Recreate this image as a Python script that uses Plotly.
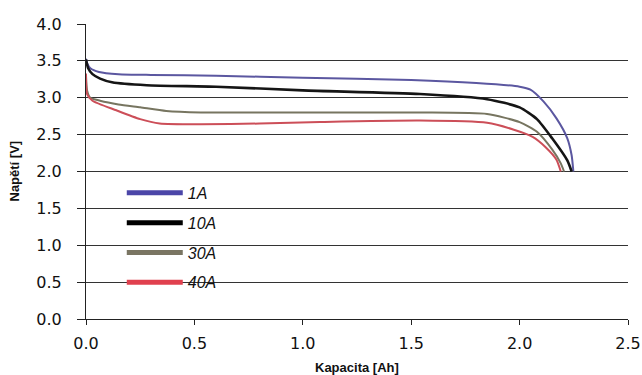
import plotly.graph_objects as go

series_names = ["1A", "10A", "30A", "40A"]

x_1a = [0, 0.005, 0.02, 0.06, 0.15, 0.3, 0.6, 1.0, 1.5, 1.8, 2.0, 2.05, 2.11, 2.17, 2.22, 2.24, 2.248]
y_1a = [3.53, 3.47, 3.40, 3.35, 3.32, 3.31, 3.30, 3.27, 3.24, 3.20, 3.15, 3.11, 2.95, 2.72, 2.45, 2.22, 2.0]

x_10a = [0, 0.01, 0.03, 0.065, 0.12, 0.28, 0.6, 1.0, 1.54, 1.85, 2.0, 2.08, 2.15, 2.22, 2.24]
y_10a = [3.52, 3.40, 3.32, 3.26, 3.21, 3.17, 3.15, 3.10, 3.05, 2.98, 2.87, 2.71, 2.45, 2.15, 2.0]

x_30a = [0, 0.005, 0.02, 0.065, 0.15, 0.25, 0.37, 0.53, 1.0, 1.54, 1.85, 2.0, 2.08, 2.15, 2.19, 2.205]
y_30a = [3.30, 3.10, 3.0, 2.96, 2.91, 2.87, 2.82, 2.80, 2.80, 2.80, 2.78, 2.67, 2.54, 2.30, 2.11, 2.0]

x_40a = [0, 0.005, 0.03, 0.14, 0.25, 0.34, 0.53, 0.8, 1.08, 1.54, 1.85, 1.97, 2.06, 2.12, 2.17, 2.19]
y_40a = [3.33, 3.05, 2.96, 2.83, 2.71, 2.65, 2.64, 2.65, 2.67, 2.69, 2.66, 2.57, 2.47, 2.33, 2.16, 2.0]

line_colors = ["#5b57a0", "#151515", "#777560", "#cc4e58"]
legend_colors = ["#4b46a8", "#000000", "#7a7563", "#e0404e"]
line_widths = [2, 2.6, 2, 2]

x_ticks = [0, 0.5, 1.0, 1.5, 2.0, 2.5]
y_ticks = [0, 0.5, 1.0, 1.5, 2.0, 2.5, 3.0, 3.5, 4.0]
y_grid = [0.5, 1.0, 1.5, 2.0, 2.5, 3.0, 3.5]

x_title = "Kapacita [Ah]"
y_title = "Napětí [V]"

xs = [x_1a, x_10a, x_30a, x_40a]
ys = [y_1a, y_10a, y_30a, y_40a]

fig = go.Figure()
for name, x, y, c, w in zip(series_names, xs, ys, line_colors, line_widths):
    fig.add_trace(go.Scatter(x=x, y=y, mode="lines", name=name, showlegend=False,
                             line=dict(color=c, width=w, shape="spline", smoothing=0.6)))
for i, (name, c) in enumerate(zip(series_names, legend_colors)):
    fig.add_trace(go.Scatter(x=[None], y=[None], mode="lines", name=name, legendgroup=f"g{i}",
                             line=dict(color=c, width=5)))

# grid-only axis
fig.add_trace(go.Scatter(x=[None], y=[None], yaxis="y2", showlegend=False))

title_font = dict(family="Liberation Sans", size=13, weight="bold", color="#111111")

fig.update_layout(
    width=642, height=375,
    margin=dict(l=86, r=14, t=24, b=56, autoexpand=False),
    paper_bgcolor="white", plot_bgcolor="white",
    font=dict(family="DejaVu Sans", color="#111111"),
    hovermode=False,
    xaxis=dict(range=[0, 2.5], tickvals=x_ticks, ticktext=[f"{v:.1f}" for v in x_ticks],
               showgrid=False, zeroline=False, showline=True, linecolor="#222", linewidth=1,
               ticks="outside", ticklen=5, tickcolor="#222", tickfont=dict(size=16),
               ticklabelstandoff=5, automargin=False),
    yaxis=dict(range=[0, 4], tickvals=y_ticks, ticktext=[f"{v:.1f}" for v in y_ticks],
               showgrid=False, zeroline=False, showline=True, linecolor="#222", linewidth=1,
               ticks="outside", ticklen=8, tickcolor="#222", tickfont=dict(size=16),
               ticklabelstandoff=12, automargin=False),
    yaxis2=dict(range=[0, 4], overlaying="y", tickvals=y_grid, showticklabels=False, ticks="",
                showgrid=True, gridcolor="#333333", gridwidth=1, zeroline=False, showline=False,
                automargin=False),
    legend=dict(x=0.066, y=0.485, xanchor="left", yanchor="top", bgcolor="rgba(0,0,0,0)",
                itemwidth=56, tracegroupgap=6, traceorder="grouped",
                font=dict(family="Liberation Sans", size=16, style="italic", color="#111")),
    annotations=[
        dict(text=x_title, xref="paper", yref="paper", x=0.5, y=0, yshift=-48,
             xanchor="center", yanchor="middle", showarrow=False, font=title_font),
        dict(text=y_title, xref="paper", yref="paper", x=0, y=0.5, xshift=-72, textangle=-90,
             xanchor="center", yanchor="middle", showarrow=False, font=title_font),
    ],
)

fig.write_html("out.html", config={"displayModeBar": False},
               post_script="document.body.style.margin='0';document.body.style.overflow='hidden';")
